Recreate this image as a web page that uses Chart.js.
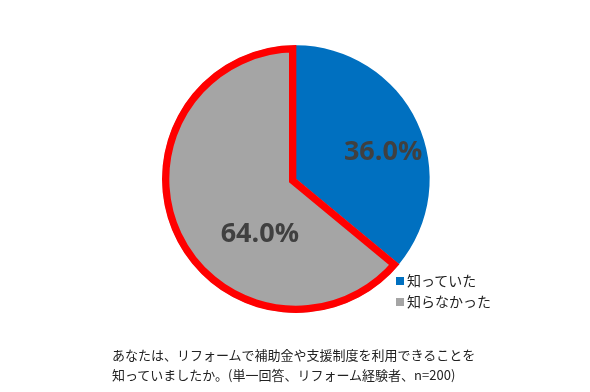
<!DOCTYPE html>
<html>
<head>
<meta charset="utf-8">
<script src="https://cdn.jsdelivr.net/npm/chart.js@4.4.1/dist/chart.umd.min.js"></script>
<style>
  body { margin: 0; background: #fff; }
  #wrap { position: relative; width: 590px; height: 392px; }
  #legend { position: absolute; left: 396px; top: 270px; font-family: "Noto Sans CJK JP", sans-serif; font-size: 14px; color: #222; }
  #legend div { height: 21px; line-height: 21px; white-space: nowrap; }
  #legend span { display: inline-block; width: 8px; height: 8px; margin-right: 3px; vertical-align: 1px; }
  #caption { position: absolute; left: 112px; top: 345px; font-family: "Noto Sans CJK JP", sans-serif; font-size: 13px; line-height: 20px; color: #222; white-space: nowrap; }
</style>
</head>
<body>
<div id="wrap">
  <canvas id="pieChart" width="590" height="392"></canvas>
  <div id="legend"></div>
  <div id="caption"></div>
</div>
<script>
// data
const labels = ['知っていた', '知らなかった'];
const values = [36.0, 64.0];
const colors = ['#0070C0', '#A5A5A5'];
const captionLines = [
    'あなたは、リフォームで補助金や支援制度を利用できることを',
    '知っていましたか。(単一回答、リフォーム経験者、n=200)'
];

// label placement relative to pie center (fraction of radius)
const labelOffsets = [[0.65, -0.2], [-0.27, 0.41]];

const pctLabels = {
    id: 'pctLabels',
    afterDatasetsDraw(chart) {
        const ctx = chart.ctx;
        const meta = chart.getDatasetMeta(0);
        ctx.save();
        ctx.font = 'bold 27px "Open Sans", sans-serif';
        ctx.fillStyle = '#404040';
        ctx.textAlign = 'center';
        ctx.textBaseline = 'middle';
        meta.data.forEach(function(arc, i) {
            const r = arc.outerRadius;
            const x = arc.x + labelOffsets[i][0] * r;
            const y = arc.y + labelOffsets[i][1] * r;
            ctx.fillText(values[i].toFixed(1) + '%', x, y);
        });
        ctx.restore();
    }
};

const ctx = document.getElementById('pieChart').getContext('2d');
const pieChart = new Chart(ctx, {
    type: 'pie',
    data: {
        labels: labels,
        datasets: [{
            data: values,
            backgroundColor: colors,
            borderColor: ['rgba(0,0,0,0)', '#FF0000'],
            borderWidth: [0, 7],
            borderAlign: 'inner',
            borderJoinStyle: 'miter'
        }]
    },
    options: {
        responsive: false,
        animation: false,
        layout: {
            padding: { left: 162, right: 160, top: 45, bottom: 79 }
        },
        plugins: {
            legend: { display: false },
            tooltip: { enabled: false }
        }
    },
    plugins: [pctLabels]
});

// legend and caption
const legendEl = document.getElementById('legend');
labels.forEach(function(label, i) {
    const row = document.createElement('div');
    const box = document.createElement('span');
    box.style.background = colors[i];
    row.appendChild(box);
    row.appendChild(document.createTextNode(label));
    legendEl.appendChild(row);
});
const captionEl = document.getElementById('caption');
captionEl.innerHTML = captionLines.join('<br>');
</script>
</body>
</html>
